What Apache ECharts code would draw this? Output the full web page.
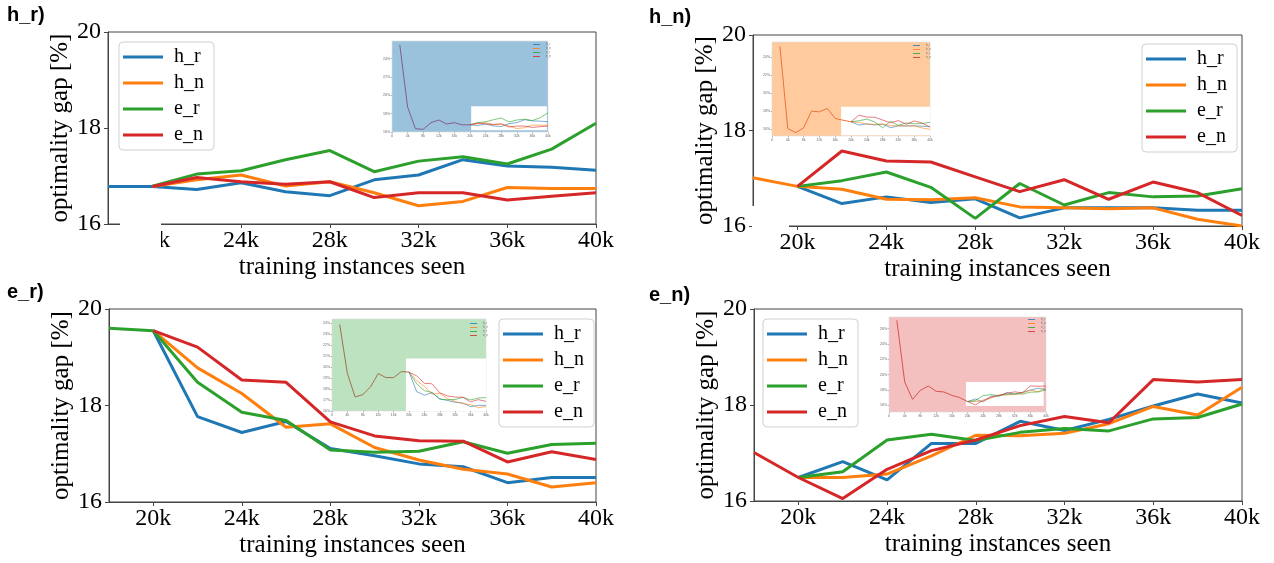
<!DOCTYPE html>
<html lang="en">
<head>
<meta charset="UTF-8">
<title>optimality gap</title>
<script src="https://cdn.jsdelivr.net/npm/echarts@6/dist/echarts.min.js"></script>
<style>
  html, body { margin: 0; padding: 0; background: #fff; }
  #chart { width: 1274px; height: 563px; }
</style>
</head>
<body>
<div id="chart"></div>
<script>
// x positions of the main plots (training instances seen)
var steps = [18000, 20000, 22000, 24000, 26000, 28000, 30000, 32000, 34000, 36000, 38000, 40000];
var xTicks = [20000, 24000, 28000, 32000, 36000, 40000];
var names = ['h_r', 'h_n', 'e_r', 'e_n'];
var colors = ['#1f77b4', '#ff7f0e', '#2ca02c', '#d62728'];

// panel h_r)
var hr_hr = [16.78, 16.78, 16.72, 16.86, 16.67, 16.59, 16.92, 17.02, 17.34, 17.21, 17.18, 17.12];
var hr_hn = [null, 16.78, 16.92, 17.02, 16.79, 16.88, 16.65, 16.38, 16.47, 16.76, 16.74, 16.74];
var hr_er = [null, 16.79, 17.04, 17.11, 17.34, 17.53, 17.09, 17.31, 17.40, 17.25, 17.56, 18.10];
var hr_en = [null, 16.78, 16.97, 16.88, 16.83, 16.88, 16.55, 16.65, 16.65, 16.50, 16.58, 16.65];
// panel h_n)
var hn_hr = [null, 16.83, 16.47, 16.61, 16.49, 16.57, 16.17, 16.38, 16.38, 16.38, 16.33, 16.33];
var hn_hn = [17.01, 16.83, 16.77, 16.56, 16.55, 16.59, 16.40, 16.38, 16.36, 16.38, 16.14, 16.00];
var hn_er = [null, 16.83, 16.95, 17.13, 16.81, 16.16, 16.89, 16.44, 16.70, 16.61, 16.63, 16.78];
var hn_en = [null, 16.83, 17.57, 17.36, 17.34, 17.03, 16.72, 16.97, 16.56, 16.92, 16.70, 16.22];
// panel e_r)
var er_hr = [null, 19.55, 17.77, 17.44, 17.67, 17.11, 16.96, 16.79, 16.73, 16.40, 16.51, 16.51];
var er_hn = [null, 19.55, 18.78, 18.25, 17.55, 17.62, 17.13, 16.87, 16.68, 16.58, 16.31, 16.40];
var er_er = [19.60, 19.55, 18.48, 17.86, 17.69, 17.08, 17.03, 17.05, 17.25, 17.01, 17.19, 17.22];
var er_en = [null, 19.55, 19.21, 18.53, 18.48, 17.66, 17.37, 17.27, 17.26, 16.83, 17.04, 16.88];
// panel e_n)
var en_hr = [null, 16.49, 16.82, 16.44, 17.20, 17.20, 17.66, 17.47, 17.70, 17.98, 18.23, 18.04];
var en_hn = [null, 16.49, 16.49, 16.56, 16.94, 17.37, 17.36, 17.41, 17.61, 17.97, 17.79, 18.37];
var en_er = [null, 16.49, 16.61, 17.27, 17.39, 17.26, 17.43, 17.51, 17.46, 17.71, 17.74, 18.02];
var en_en = [17.01, 16.49, 16.05, 16.66, 17.05, 17.27, 17.57, 17.76, 17.63, 18.53, 18.48, 18.53];

// small inset plots: shared run from 2k to 20k, then the four curves above
var insetSteps = [2000, 4000, 6000, 8000, 10000, 12000, 14000, 16000, 18000, 20000];
var head_hr = [25.5, 18.73, 16.36, 16.29, 17.02, 17.31, 16.87, 17.02, 16.78, 16.78];
var head_hn = [25.23, 16.07, 15.63, 16.15, 18.02, 17.94, 18.32, 17.2, 17.01, 16.83];
var head_er = [23.9, 19.42, 17.28, 17.5, 18.2, 19.42, 19.05, 19.05, 19.60, 19.55];
var head_en = [27.09, 19.04, 16.78, 17.96, 18.52, 17.83, 17.74, 17.30, 17.01, 16.49];
var insetYTicks_hr = [16, 18, 20, 22, 24];
var insetYTicks_hn = [16, 18, 20, 22, 24];
var insetYTicks_er = [16, 17, 18, 19, 20, 21, 22, 23, 24];
var insetYTicks_en = [16, 18, 20, 22, 24, 26];
var box_hr = [[20300, 16.18], [39700, 18.8]];
var box_hn = [[17500, 15.33], [40000, 18.5]];
var box_er = [[19200, 16], [40000, 20.8]];
var box_en = [[19600, 15.9], [39400, 19.04]];

var serif = 'Liberation Serif';

var panels = [
  { title: 'h_r)', lines: [hr_hr, hr_hn, hr_er, hr_en], head: head_hr, iTicks: insetYTicks_hr, iMin: 16, iMax: 25.93, box: box_hr,
    grid: { left: 108, top: 32, width: 488, height: 192 }, tpos: { left: 7, top: 5 },
    inset: { left: 392, top: 41, width: 156, height: 91 }, ibg: '#9ac2dd', headColor: '#7f5f8f', ileg: { left: 533, top: 43 },
    leg: { left: 119, top: 42 } },
  { title: 'h_n)', lines: [hn_hr, hn_hn, hn_er, hn_en], head: head_hn, iTicks: insetYTicks_hn, iMin: 15.25, iMax: 25.72, box: box_hn,
    grid: { left: 753, top: 35, width: 489, height: 191 }, tpos: { left: 649, top: 7 },
    inset: { left: 772, top: 42, width: 158, height: 94 }, ibg: '#ffcb9e', headColor: '#e8743b', ileg: { left: 913, top: 44 },
    leg: { left: 1142, top: 44 } },
  { title: 'e_r)', lines: [er_hr, er_hn, er_er, er_en], head: head_er, iTicks: insetYTicks_er, iMin: 16, iMax: 24.4, box: box_er,
    grid: { left: 109, top: 309, width: 487, height: 193 }, tpos: { left: 7, top: 282 },
    inset: { left: 332, top: 319, width: 154, height: 92 }, ibg: '#bde2c0', headColor: '#a0714f', ileg: { left: 470, top: 322 },
    leg: { left: 499, top: 319 } },
  { title: 'e_n)', lines: [en_hr, en_hn, en_er, en_en], head: head_en, iTicks: insetYTicks_en, iMin: 15.13, iMax: 27.52, box: box_en,
    grid: { left: 754, top: 309, width: 488, height: 192 }, tpos: { left: 649, top: 285 },
    inset: { left: 889, top: 317, width: 157, height: 95 }, ibg: '#f3bfbf', headColor: '#d9534f', ileg: { left: 1028, top: 318 },
    leg: { left: 763, top: 319 } }
];

function pairs(xs, ys) {
  var out = [];
  for (var i = 0; i < xs.length; i++) {
    if (ys[i] != null) out.push([xs[i], ys[i]]);
  }
  return out;
}

var legendItems = names.map(function (n, j) {
  return { name: n, itemStyle: { color: colors[j] } };
});

var grids = [], xAxes = [], yAxes = [], series = [], legends = [], titles = [];

panels.forEach(function (p, k) {
  var g = 2 * k, gi = 2 * k + 1;
  titles.push({ text: p.title, left: p.tpos.left, top: p.tpos.top, padding: 0,
    textStyle: { fontFamily: 'Liberation Sans', fontWeight: 'bold', fontSize: 20, color: '#000' } });

  // main plot
  grids.push(Object.assign({ show: true, borderColor: '#444', borderWidth: 1 }, p.grid));
  xAxes.push({
    type: 'value', gridIndex: g, min: 18000, max: 40000,
    axisLine: { show: true, lineStyle: { color: '#444', width: 1 } },
    axisTick: { show: true, length: 4, customValues: xTicks, lineStyle: { color: '#444' } },
    axisLabel: { customValues: xTicks, formatter: function (v) { return v / 1000 + 'k'; },
      fontFamily: serif, fontSize: 24, color: '#000', margin: 5 },
    splitLine: { show: false },
    name: 'training instances seen', nameLocation: 'middle', nameGap: 31,
    nameTextStyle: { fontFamily: serif, fontSize: 25, color: '#000' }
  });
  yAxes.push({
    type: 'value', gridIndex: g, min: 16, max: 20, interval: 2,
    axisLine: { show: true, lineStyle: { color: '#444', width: 1 } },
    axisTick: { show: true, length: 4, lineStyle: { color: '#444' } },
    axisLabel: { fontFamily: serif, fontSize: 24, color: '#000', margin: 7 },
    splitLine: { show: false },
    name: 'optimality gap [%]', nameLocation: 'middle', nameGap: 33, nameRotate: 90,
    nameTextStyle: { fontFamily: serif, fontSize: 25, color: '#000' }
  });
  p.lines.forEach(function (arr, j) {
    series.push({
      type: 'line', name: names[j], xAxisIndex: g, yAxisIndex: g,
      data: pairs(steps, arr), symbol: 'none', color: colors[j],
      lineStyle: { width: 3, color: colors[j] }, z: 3
    });
  });
  legends.push({
    data: legendItems, orient: 'vertical', left: p.leg.left, top: p.leg.top, selectedMode: false,
    icon: 'rect', itemWidth: 40, itemHeight: 3, itemGap: 6,
    padding: [5, 10, 5, 4], backgroundColor: '#fff', borderColor: '#d0d0d0', borderWidth: 1, borderRadius: 4,
    textStyle: { fontFamily: serif, fontSize: 20, color: '#000', padding: [0, 0, 0, 6] }
  });

  // inset plot
  grids.push(Object.assign({ show: true, backgroundColor: p.ibg, borderColor: '#dcdcdc', borderWidth: 0.6 }, p.inset));
  xAxes.push({
    type: 'value', gridIndex: gi, min: 0, max: 40000, interval: 4000,
    axisLine: { show: false }, splitLine: { show: false },
    axisTick: { show: true, length: 1.5, lineStyle: { color: '#777', width: 0.5 } },
    axisLabel: { fontSize: 3.5, color: '#666', margin: 2,
      formatter: function (v) { return v === 0 ? '0' : v / 1000 + 'k'; } }
  });
  yAxes.push({
    type: 'value', gridIndex: gi, min: p.iMin, max: p.iMax,
    axisLine: { show: false }, splitLine: { show: false },
    axisTick: { show: true, length: 1.5, customValues: p.iTicks, lineStyle: { color: '#777', width: 0.5 } },
    axisLabel: { customValues: p.iTicks, fontSize: 3.5, color: '#666', margin: 2,
      formatter: function (v) { return v + '%'; } }
  });
  series.push({
    type: 'line', name: 'all', xAxisIndex: gi, yAxisIndex: gi,
    data: pairs(insetSteps, p.head), symbol: 'none',
    lineStyle: { width: 1, color: p.headColor }, z: 4,
    markArea: { silent: true, itemStyle: { color: '#fff', opacity: 1 },
      data: [[{ coord: p.box[0] }, { coord: p.box[1] }]] }
  });
  p.lines.forEach(function (arr, j) {
    series.push({
      type: 'line', name: names[j], xAxisIndex: gi, yAxisIndex: gi,
      data: pairs(steps.slice(1), arr.slice(1)), symbol: 'none', color: colors[j],
      lineStyle: { width: 0.8, color: colors[j], opacity: 0.75 }, z: 5
    });
  });
  legends.push({
    data: legendItems, orient: 'vertical', left: p.ileg.left, top: p.ileg.top, selectedMode: false,
    icon: 'rect', itemWidth: 7, itemHeight: 0.8, itemGap: 1, padding: 0,
    textStyle: { fontSize: 3, color: '#666', padding: [0, 0, 0, 1] }
  });
});

var chart = echarts.init(document.getElementById('chart'));
chart.setOption({
  backgroundColor: '#fff',
  animation: false,
  title: titles,
  grid: grids,
  xAxis: xAxes,
  yAxis: yAxes,
  legend: legends,
  series: series,
  // bottom-left corners of the two top plots are cut away in the original figure
  graphic: [
    { type: 'rect', shape: { x: 120, y: 221, width: 41, height: 36 }, style: { fill: '#fff' }, z: 100 },
    { type: 'rect', shape: { x: 752, y: 206, width: 37, height: 22 }, style: { fill: '#fff' }, z: 100 }
  ]
});
</script>
</body>
</html>
